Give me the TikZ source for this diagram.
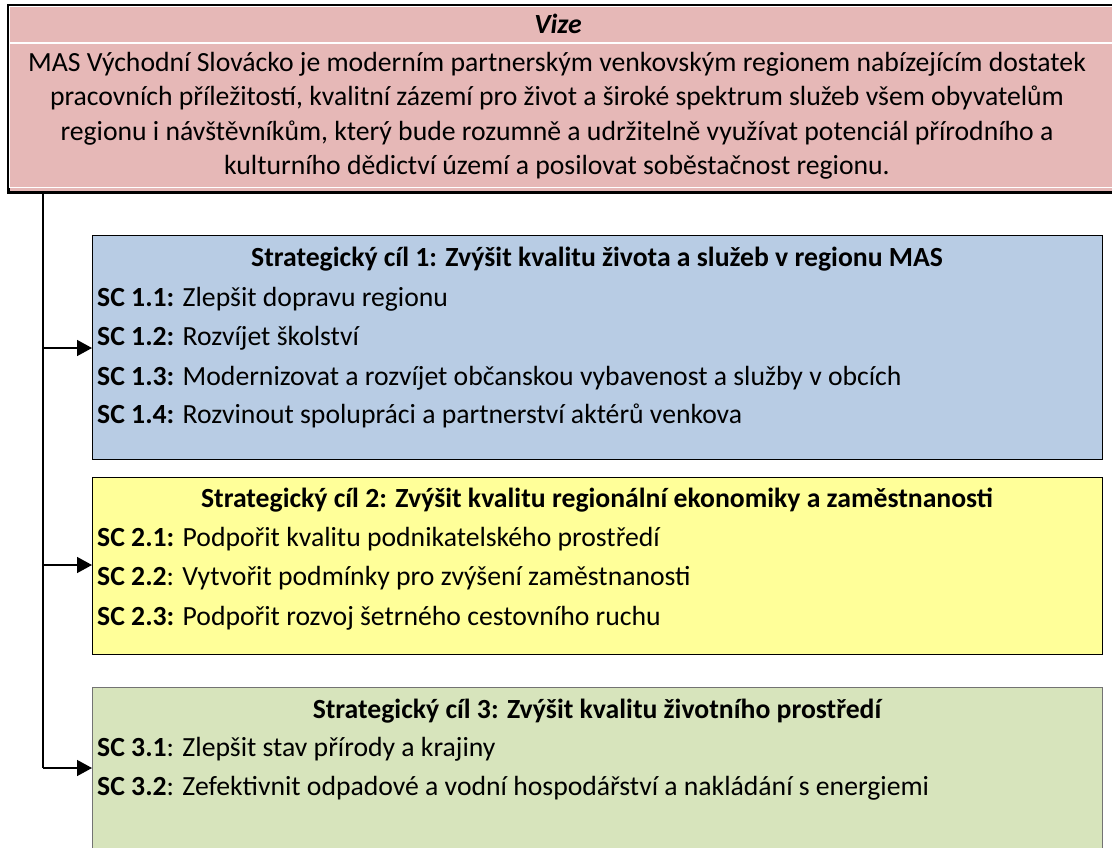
\documentclass[tikz,border=0pt]{standalone}
\usepackage{fontspec}
\setmainfont{Carlito}
\usetikzlibrary{arrows.meta}
\definecolor{vizepink}{HTML}{E6B8B7}
\definecolor{goalblue}{HTML}{B8CCE4}
\definecolor{goalyellow}{HTML}{FFFF99}
\definecolor{goalgreen}{HTML}{D7E4BC}
\newcommand{\bodyfont}{\fontsize{27.7}{33}\selectfont}
\tikzset{
  goalbox/.style={draw=black, line width=1.3pt, rectangle, anchor=north west, inner sep=0pt,
    minimum width=1010pt},
  greenbox/.style={draw=black!55, line width=0.9pt, rectangle, anchor=north west, inner sep=0pt,
    minimum width=1010pt},
  txt/.style={inner sep=0pt, font=\bodyfont},
  sctext/.style={txt, anchor=base west},
  vizeline/.style={txt, anchor=base},
  titletext/.style={txt, anchor=base, font=\bodyfont\bfseries},
  conn/.style={line width=1.5pt, black},
  arr/.style={conn, -{Triangle[length=15pt,width=16pt]}},
}
\begin{document}
\begin{tikzpicture}[x=1pt,y=-1pt]
\useasboundingbox (0,0) rectangle (1112,847);
\begin{scope}
\clip (0,0) rectangle (1112,847);
% Vision box
\node[fill=vizepink, draw=black, line width=2.5pt, rectangle, anchor=north west, inner sep=0pt,
  minimum width=1120pt, minimum height=187pt] (vize) at (7,4) {};
\draw[white, line width=1pt] (9.8,6.8) rectangle (1130,187.3);
\draw[white, line width=2pt] (9,43) -- (1130,43);
% Goal boxes
\node[goalbox, fill=goalblue, minimum height=224pt] (b1) at (92,235) {};
\node[goalbox, fill=goalyellow, minimum height=177pt] (b2) at (92,477) {};
\node[greenbox, fill=goalgreen, minimum height=200pt] (b3) at (92,687) {};
\end{scope}
% Vision text
\node[titletext, font=\bodyfont\bfseries\itshape] (vizetitle) at (558,33) {Vize};
\node[vizeline] (v1) at (557,71) {MAS Východní Slovácko je moderním partnerským venkovským regionem nabízejícím dostatek};
\node[vizeline] (v2) at (557,105.5) {pracovních příležitostí, kvalitní zázemí pro život a široké spektrum služeb všem obyvatelům};
\node[vizeline] (v3) at (557,140) {regionu i návštěvníkům, který bude rozumně a udržitelně využívat potenciál přírodního a};
\node[vizeline] (v4) at (557,174.5) {kulturního dědictví území a posilovat soběstačnost regionu.};
% Goal 1
\node[titletext] (t1) at (597,266) {Strategický cíl 1: Zvýšit kvalitu života a služeb v regionu MAS};
\node[sctext] (s11) at (97,306) {\textbf{SC 1.1:} Zlepšit dopravu regionu};
\node[sctext] (s12) at (97,345) {\textbf{SC 1.2:} Rozvíjet školství};
\node[sctext] (s13) at (97,385) {\textbf{SC 1.3:} Modernizovat a rozvíjet občanskou vybavenost a služby v obcích};
\node[sctext] (s14) at (97,423) {\textbf{SC 1.4:} Rozvinout spolupráci a partnerství aktérů venkova};
% Goal 2
\node[titletext] (t2) at (597,507) {Strategický cíl 2: Zvýšit kvalitu regionální ekonomiky a zaměstnanosti};
\node[sctext] (s21) at (97,546) {\textbf{SC 2.1:} Podpořit kvalitu podnikatelského prostředí};
\node[sctext] (s22) at (97,585) {\textbf{SC 2.2}: Vytvořit podmínky pro zvýšení zaměstnanosti};
\node[sctext] (s23) at (97,625) {\textbf{SC 2.3:} Podpořit rozvoj šetrného cestovního ruchu};
% Goal 3
\node[titletext] (t3) at (597,718) {Strategický cíl 3: Zvýšit kvalitu životního prostředí};
\node[sctext] (s31) at (97,756) {\textbf{SC 3.1}: Zlepšit stav přírody a krajiny};
\node[sctext] (s32) at (97,795) {\textbf{SC 3.2}: Zefektivnit odpadové a vodní hospodářství a nakládání s energiemi};
% Connectors
\coordinate (trunk) at (43,191);
\coordinate (in1) at (b1.west |- 0,348);
\coordinate (in2) at (b2.west |- 0,565);
\coordinate (in3) at (b3.west |- 0,768);
\draw[conn] (trunk) -- (trunk |- in3);
\draw[arr] (trunk |- in1) -- (in1);
\draw[arr] (trunk |- in2) -- (in2);
\draw[arr] (trunk |- in3) -- (in3);
\end{tikzpicture}
\end{document}
